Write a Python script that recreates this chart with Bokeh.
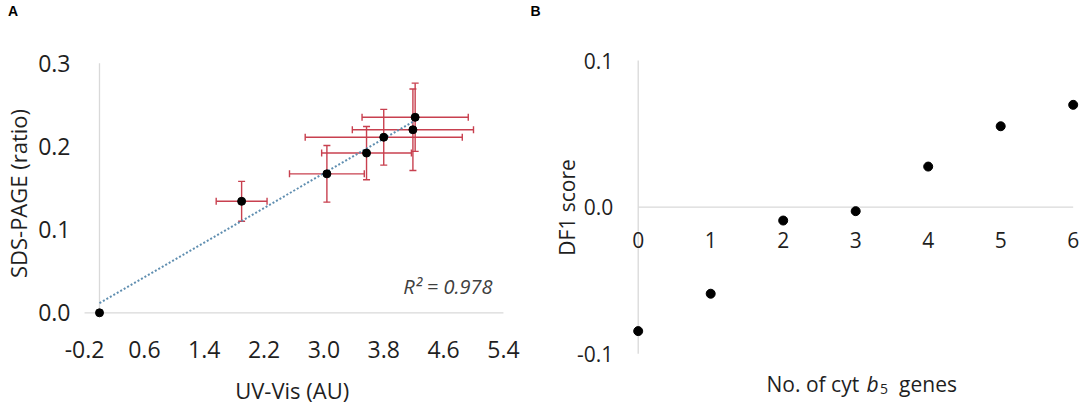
import math
import numpy as np
from bokeh.plotting import figure
from bokeh.layouts import row
from bokeh.models import (LinearAxis, FixedTicker, PrintfTickFormatter, Range1d,
                          ColumnDataSource, Whisker, TeeHead, Label)
from bokeh.embed import file_html
from bokeh.resources import INLINE

# ---------------- Panel A data ----------------
uv_vis = [0.0, 1.90, 3.04, 3.57, 3.80, 4.19, 4.22]
sds_page = [0.0, 0.134, 0.167, 0.192, 0.211, 0.220, 0.235]
uv_err = [0.0, 0.34, 0.50, 0.60, 1.05, 0.81, 0.71]
sds_err = [0.0, 0.024, 0.034, 0.032, 0.0335, 0.049, 0.041]
r2_text = "R\u00b2 = 0.978"
a_xticks = [-0.2, 0.6, 1.4, 2.2, 3.0, 3.8, 4.6, 5.4]
a_yticks = [0.0, 0.1, 0.2, 0.3]
a_xlabel = "UV-Vis (AU)"
a_ylabel = "SDS-PAGE (ratio)"

# ---------------- Panel B data ----------------
genes = [0, 1, 2, 3, 4, 5, 6]
df1 = [-0.0845, -0.059, -0.0091, -0.0027, 0.0277, 0.0552, 0.0698]
b_xticks = [0, 1, 2, 3, 4, 5, 6]
b_yticks = [-0.1, 0.0, 0.1]
b_xlabel_parts = ["No. of cyt", "b", "5", "genes"]
b_ylabel = "DF1 score"

FONT = "Open Sans"
TXT = "#1f1f1f"
GRAY = "#d9d9d9"
RED = "#c8404f"
TREND = "#5f8eb0"

# ---------------- layout (pixels) ----------------
H = 411
A_W = 528
A_X0, A_XS = 99.0, 74.8      # pixel of x=0, pixels per unit
A_Y0, A_YS = 312.3, 832.0    # pixel of y=0, pixels per unit
B_W = 556
B_LEFT = 528                 # where panel B starts in the page
B_X0, B_XS = 637.7 - B_LEFT, 72.5
B_Y0, B_YS = 206.7, 1466.5


def make_axis(loc, ticks, fmt, standoff, size):
    ax = LinearAxis(fixed_location=loc, ticker=FixedTicker(ticks=ticks),
                    axis_line_color=None, major_tick_line_color=None,
                    minor_tick_line_color=None, major_tick_in=0, major_tick_out=0,
                    major_label_standoff=standoff,
                    major_label_text_font=FONT, major_label_text_font_size=size,
                    major_label_text_color=TXT)
    if fmt:
        ax.formatter = PrintfTickFormatter(format=fmt)
    return ax


def base_fig(w, x0, xs, y0, ys):
    return figure(width=w, height=H, frame_width=w, frame_height=H, min_border=0,
                  x_range=Range1d(-x0 / xs, (w - x0) / xs),
                  y_range=Range1d(-(H - y0) / ys, y0 / ys),
                  x_axis_type=None, y_axis_type=None, toolbar_location=None,
                  output_backend="svg", outline_line_color=None, align="start")


def text(p, px, py, x0, xs, y0, ys, s, size, angle=0.0, align="left", style="normal",
         font=FONT, color=TXT):
    p.add_layout(Label(x=(px - x0) / xs, y=(y0 - py) / ys, text=s, angle=angle,
                       text_align=align, text_baseline="middle", text_font=font,
                       text_font_style=style, text_font_size=size, text_color=color))


# ================= Panel A =================
pa = base_fig(A_W, A_X0, A_XS, A_Y0, A_YS)
pa.add_layout(make_axis(0, a_yticks, "%.1f", 29, "23px"), "left")
pa.add_layout(make_axis(0, a_xticks, "%.1f", 28, "23px"), "below")

pa.segment(x0=[0, a_xticks[0]], y0=[a_yticks[0], 0], x1=[0, a_xticks[-1]], y1=[a_yticks[-1], 0],
           line_color=GRAY, line_width=1.3)

idx = [i for i in range(len(uv_vis)) if uv_err[i] > 0]
err_src = ColumnDataSource(dict(
    x=[uv_vis[i] for i in idx], y=[sds_page[i] for i in idx],
    xl=[uv_vis[i] - uv_err[i] for i in idx], xu=[uv_vis[i] + uv_err[i] for i in idx],
    yl=[sds_page[i] - sds_err[i] for i in idx], yu=[sds_page[i] + sds_err[i] for i in idx]))

for base, lo, up, dim in (("y", "xl", "xu", "width"), ("x", "yl", "yu", "height")):
    pa.add_layout(Whisker(source=err_src, base=base, lower=lo, upper=up, dimension=dim,
                          line_color=RED, line_width=1.4,
                          lower_head=TeeHead(size=7, line_color=RED, line_width=1.4),
                          upper_head=TeeHead(size=7, line_color=RED, line_width=1.4)))

slope, intercept = np.polyfit(uv_vis, sds_page, 1)
tx = [min(uv_vis), max(uv_vis)]
pa.line(x=tx, y=[slope * v + intercept for v in tx], line_color=TREND, line_width=2,
        line_dash="2 2")

pa.scatter(uv_vis, sds_page, size=8, color="black")

ta = dict(x0=A_X0, xs=A_XS, y0=A_Y0, ys=A_YS)
text(pa, 402.7, 285.7, s=r2_text, size="20px", style="italic", color="#404040", **ta)
text(pa, 17.2, 193, s=a_ylabel, size="22px", angle=math.pi / 2, align="center", **ta)
text(pa, 291.7, 389, s=a_xlabel, size="22px", align="center", **ta)
text(pa, 7.6, 10, s="A", size="14px", style="bold", font="Liberation Sans", color="black", **ta)

# ================= Panel B =================
pb = base_fig(B_W, B_X0, B_XS, B_Y0, B_YS)
pb.add_layout(make_axis(0, b_yticks, "%.1f", 25, "21px"), "left")
pb.add_layout(make_axis(0, b_xticks, None, 25, "21px"), "below")

pb.segment(x0=[0, b_xticks[0]], y0=[b_yticks[0], 0], x1=[0, b_xticks[-1]], y1=[b_yticks[-1], 0],
           line_color=GRAY, line_width=1.3)

pb.scatter(genes, df1, size=9, color="black")

tb = dict(x0=B_X0, xs=B_XS, y0=B_Y0, ys=B_YS)
text(pb, 566.5 - B_LEFT, 207, s=b_ylabel, size="21px", angle=math.pi / 2, align="center", **tb)
text(pb, 766 - B_LEFT, 383.3, s=b_xlabel_parts[0], size="21px", **tb)
text(pb, 865.9 - B_LEFT, 383.3, s=b_xlabel_parts[1], size="21px", style="italic", **tb)
text(pb, 879.5 - B_LEFT, 388, s=b_xlabel_parts[2], size="14px", **tb)
text(pb, 898.6 - B_LEFT, 383.3, s=b_xlabel_parts[3], size="21px", **tb)
text(pb, 530 - B_LEFT, 10, s="B", size="14px", style="bold", font="Liberation Sans",
     color="black", **tb)

layout = row(pa, pb, align="start")
open("out.html", "w").write(file_html(layout, INLINE))
